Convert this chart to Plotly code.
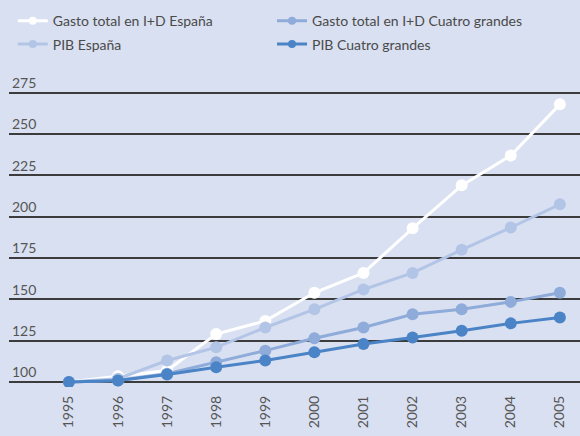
import plotly.graph_objects as go

years = [1995, 1996, 1997, 1998, 1999, 2000, 2001, 2002, 2003, 2004, 2005]
gasto_espana = [100, 103.5, 107, 129, 137, 154, 166, 193, 219, 237, 268]
gasto_cuatro = [100, 101, 105, 112, 119, 126.5, 133, 141, 144, 148.5, 154]
pib_espana = [100, 102, 113, 121, 133, 144, 156, 166, 180, 193.5, 207.5]
pib_cuatro = [100, 101, 104.5, 109, 113, 118, 123, 127, 131, 135.5, 139]

BG = '#D9E0F1'

fig = go.Figure()

series = [
    ('Gasto total en I+D España', gasto_espana, '#FFFFFF', 'legend'),
    ('Gasto total en I+D Cuatro grandes', gasto_cuatro, '#8EABD9', 'legend2'),
    ('PIB España', pib_espana, '#B3C5E6', 'legend'),
    ('PIB Cuatro grandes', pib_cuatro, '#4A84C6', 'legend2'),
]

for name, vals, color, leg in series:
    fig.add_trace(go.Scatter(
        x=years, y=vals, name=name, mode='lines+markers',
        line=dict(color=color, width=3),
        marker=dict(color=color, size=12),
        showlegend=False,
    ))
    # entrada de leyenda con marcador más pequeño
    fig.add_trace(go.Scatter(
        x=[None], y=[None], name=name, mode='lines+markers',
        line=dict(color=color, width=3),
        marker=dict(color=color, size=8),
        legend=leg, legendgroup=name,
    ))

leg_style = dict(
    orientation='v', xref='container', yref='container',
    xanchor='left', yanchor='top',
    bgcolor='rgba(0,0,0,0)', font=dict(size=14, color='#4A4A4A'),
    tracegroupgap=2, itemwidth=30,
)

fig.update_layout(
    width=580, height=436,
    paper_bgcolor=BG, plot_bgcolor=BG,
    margin=dict(l=9, r=0, t=68, b=49, autoexpand=False),
    font=dict(family='Lato', size=14, color='#555555'),
    showlegend=True,
    legend=dict(x=0.022, y=0.988, **leg_style),
    legend2=dict(x=0.469, y=0.988, **leg_style),
)

fig.update_xaxes(
    range=[1993.78, 2005.41], tickvals=years, tickangle=-90,
    showgrid=False, zeroline=False, showline=False, ticks='',
    ticklabelstandoff=5,
    tickfont=dict(size=14, color='#555555'),
)
fig.update_yaxes(
    range=[97, 290], tickvals=[100, 125, 150, 175, 200, 225, 250, 275],
    showgrid=True, gridcolor='#3C3C3C', gridwidth=1.5,
    zeroline=False, showline=False, ticks='',
    ticklabelposition='inside top',
    tickfont=dict(size=14, color='#555555'),
)

fig.write_html('out.html', config={'displayModeBar': False},
               post_script="document.body.style.margin='0';")
